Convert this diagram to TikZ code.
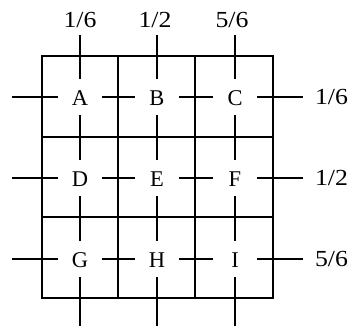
\documentclass[tikz,border=0pt]{standalone}
\usepackage{fontspec}
\setmainfont{Liberation Serif}
\newfontfamily\labfont[FakeStretch=1.12]{Liberation Serif}
\begin{document}
\begin{tikzpicture}[x=1pt,y=-1pt,line width=2pt,
  cell/.style={inner sep=0pt,minimum width=42pt,minimum height=34pt,text height=17pt,text depth=0pt,font=\fontsize{22.5}{26}\selectfont},
  lab/.style={inner sep=0pt,font=\labfont\fontsize{23}{26}\selectfont}]
\useasboundingbox (0,0) rectangle (350,326);
% grid
\draw (42,56) rectangle (273,298);
\draw (118,56) -- (118,298);
\draw (195,56) -- (195,298);
\draw (42,137) -- (273,137);
\draw (42,217) -- (273,217);
% cells
\foreach \n/\x/\y in {A/80/97,B/157/97,C/235/97,D/80/178,E/157/178,F/235/178,G/80/259,H/157/259,I/235/259}
  \node[cell] (\n) at (\x,\y) {\n};
% labels
\node[lab] (t1) at (80,20) {1/6};
\node[lab] (t2) at (155,20) {1/2};
\node[lab] (t3) at (232,20) {5/6};
\node[lab,anchor=west] (r1) at (314,97) {1/6};
\node[lab,anchor=west] (r2) at (314,178) {1/2};
\node[lab,anchor=west] (r3) at (314,259) {5/6};
% free ends
\foreach \c/\x in {1/80,2/157,3/235} {
  \coordinate (top\c) at (\x,35);
  \coordinate (bot\c) at (\x,326);
}
\foreach \r/\y in {1/97,2/178,3/259} {
  \coordinate (lft\r) at (12,\y);
  \coordinate (rgt\r) at (303,\y);
}
% vertical connectors
\draw (top1) -- (A); \draw (A) -- (D); \draw (D) -- (G); \draw (G) -- (bot1);
\draw (top2) -- (B); \draw (B) -- (E); \draw (E) -- (H); \draw (H) -- (bot2);
\draw (top3) -- (C); \draw (C) -- (F); \draw (F) -- (I); \draw (I) -- (bot3);
% horizontal connectors
\draw (lft1) -- (A); \draw (A) -- (B); \draw (B) -- (C); \draw (C) -- (rgt1);
\draw (lft2) -- (D); \draw (D) -- (E); \draw (E) -- (F); \draw (F) -- (rgt2);
\draw (lft3) -- (G); \draw (G) -- (H); \draw (H) -- (I); \draw (I) -- (rgt3);
\end{tikzpicture}
\end{document}
